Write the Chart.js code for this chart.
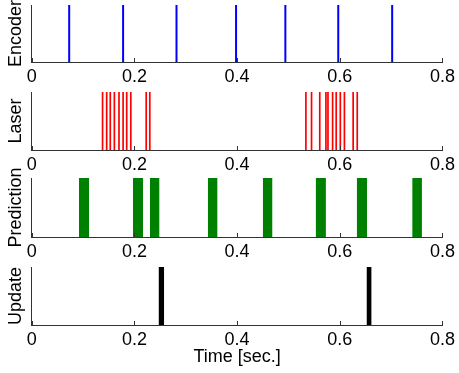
<!DOCTYPE html>
<html>
<head>
<meta charset="utf-8">
<script src="https://cdn.jsdelivr.net/npm/chart.js@4/dist/chart.umd.min.js"></script>
<style>
  html, body { margin: 0; padding: 0; background: #fff; }
  #wrap { position: relative; width: 459px; height: 373px; overflow: hidden; }
  #wrap canvas { position: absolute; left: 0; }
</style>
</head>
<body>
<div id="wrap"></div>
<script>
// x ticks
const timeTicks = [0, 0.2, 0.4, 0.6, 0.8];

// event times (sec.)
const encoderTimes = [0.073, 0.178, 0.282, 0.398, 0.494, 0.597, 0.702];
const laserTimes = [0.138, 0.146, 0.153, 0.161, 0.170, 0.178, 0.185, 0.193, 0.223, 0.230,
  0.534, 0.545, 0.561, 0.573, 0.577, 0.586, 0.593, 0.601, 0.609, 0.626, 0.634];
const predictionStart = [0.092, 0.197, 0.230, 0.343, 0.450, 0.553, 0.633, 0.741];
const predictionEnd = [0.112, 0.217, 0.249, 0.362, 0.469, 0.573, 0.653, 0.760];
const updateStart = [0.247, 0.652];
const updateEnd = [0.258, 0.662];

const FONT = '"Liberation Sans", Arial, Helvetica, sans-serif';
const AXIS = '#333333';

// vertical spikes from 0 to 1, broken with nulls
function spikes(times) {
  const pts = [];
  times.forEach((t) => {
    pts.push({x: t, y: 0}, {x: t, y: 1}, {x: t, y: null});
  });
  return pts;
}

// one filled block per interval
function blocks(starts, ends, color) {
  return starts.map((s, i) => ({
    data: [{x: s, y: 1}, {x: ends[i], y: 1}],
    fill: 'origin',
    backgroundColor: color,
    borderColor: 'rgba(0,0,0,0)',
    borderWidth: 0,
    pointRadius: 0
  }));
}

// matlab style ticks pointing into the axes
const innerTicks = {
  id: 'innerTicks',
  afterDatasetsDraw(chart) {
    const {ctx, chartArea, scales} = chart;
    const x = scales.x;
    ctx.save();
    ctx.strokeStyle = AXIS;
    ctx.lineWidth = 1;
    x.ticks.forEach((t) => {
      const px = Math.round(x.getPixelForValue(t.value)) + 0.5;
      ctx.beginPath();
      ctx.moveTo(px, chartArea.bottom);
      ctx.lineTo(px, chartArea.bottom - 4);
      ctx.stroke();
    });
    ctx.restore();
  }
};

const panels = [
  {label: 'Encoder', top: 5, bottom: 62.3, datasets: [{data: spikes(encoderTimes), borderColor: '#0000ff', borderWidth: 2, pointRadius: 0, spanGaps: false}]},
  {label: 'Laser', top: 91.7, bottom: 149.7, datasets: [{data: spikes(laserTimes), borderColor: '#ff0000', borderWidth: 1.7, pointRadius: 0, spanGaps: false}]},
  {label: 'Prediction', top: 178.3, bottom: 237.7, datasets: blocks(predictionStart, predictionEnd, '#008000')},
  {label: 'Update', top: 266.7, bottom: 325, datasets: blocks(updateStart, updateEnd, '#000000'), xTitle: 'Time [sec.]'}
];

const wrap = document.getElementById('wrap');
const PAD_TOP = 45;

panels.forEach((p, i) => {
  const xAxisH = p.xTitle ? (373 - p.bottom) : 40;
  const h = Math.round(PAD_TOP + (p.bottom - p.top) + xAxisH);
  const canvas = document.createElement('canvas');
  canvas.width = 459;
  canvas.height = h;
  canvas.style.top = (p.top - PAD_TOP) + 'px';
  wrap.appendChild(canvas);

  new Chart(canvas, {
    type: 'line',
    data: {datasets: p.datasets},
    plugins: [innerTicks],
    options: {
      responsive: false,
      animation: false,
      events: [],
      layout: {padding: {top: PAD_TOP, right: 15.3, left: 0, bottom: 0}},
      plugins: {legend: {display: false}, tooltip: {enabled: false}},
      scales: {
        x: {
          type: 'linear',
          min: 0,
          max: 0.8,
          afterBuildTicks: (scale) => { scale.ticks = timeTicks.map((v) => ({value: v})); },
          afterFit: (scale) => { scale.height = xAxisH; },
          grid: {display: false, drawTicks: false},
          border: {display: true, color: AXIS, width: 1},
          ticks: {
            color: '#000',
            padding: 4,
            font: {family: FONT, size: 18},
            callback: (v) => String(v)
          },
          title: {
            display: !!p.xTitle,
            text: p.xTitle || '',
            color: '#000',
            font: {family: FONT, size: 18},
            padding: {top: 0, bottom: 5}
          }
        },
        y: {
          min: 0,
          max: 1,
          afterFit: (scale) => { scale.width = 31.7; },
          grid: {display: false, drawTicks: false},
          border: {display: true, color: AXIS, width: 1},
          ticks: {display: false},
          title: {
            display: true,
            text: p.label,
            color: '#000',
            font: {family: FONT, size: 18},
            padding: {top: 5, bottom: 0}
          }
        }
      }
    }
  });
});
</script>
</body>
</html>
